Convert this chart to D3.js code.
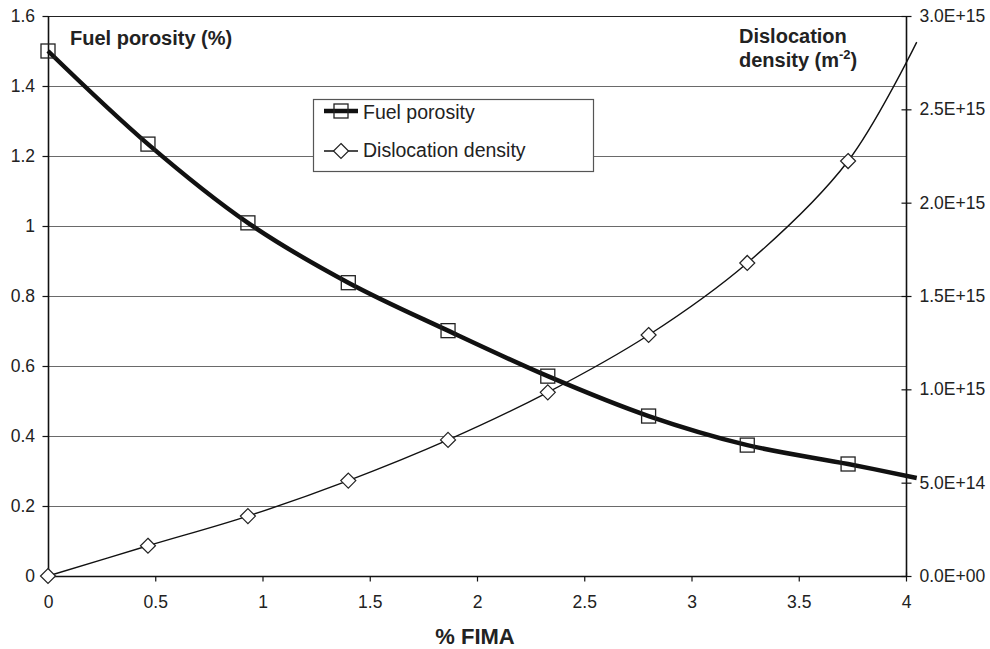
<!DOCTYPE html>
<html>
<head>
<meta charset="utf-8">
<script src="https://cdn.jsdelivr.net/npm/d3@7"></script>
<style>
  html, body { margin: 0; padding: 0; background: #fff; }
  svg { display: block; font-family: "Liberation Sans", Arial, Helvetica, sans-serif; }
</style>
</head>
<body>
<svg id="chart" width="990" height="649"></svg>
<script>
// Burnup (% FIMA) at each measured point
const fima = [0, 0.466, 0.932, 1.4, 1.865, 2.33, 2.8, 3.26, 3.73];
// Fuel porosity (%) — left axis
const porosity = [1.5, 1.234, 1.009, 0.838, 0.701, 0.571, 0.457, 0.374, 0.32];
// Dislocation density (m^-2) — right axis
const dislocation = [0, 1.62e14, 3.21e14, 5.11e14, 7.29e14, 9.84e14, 1.291e15, 1.677e15, 2.223e15];
// The smoothed curves run a little past the last measured point
const curveEndFima = 4.05;
const porosityEnd = 0.28;
const dislocationEnd = 2.86e15;

const xTicks = [0, 0.5, 1, 1.5, 2, 2.5, 3, 3.5, 4];
const leftTicks = [0, 0.2, 0.4, 0.6, 0.8, 1, 1.2, 1.4, 1.6];
const rightTicks = [0, 5e14, 1e15, 1.5e15, 2e15, 2.5e15, 3e15];

const svg = d3.select("#chart");
const x = d3.scaleLinear().domain([0, 4]).range([48, 906]);
const yL = d3.scaleLinear().domain([0, 1.6]).range([576, 16]);
const yR = d3.scaleLinear().domain([0, 3e15]).range([576, 16]);

// Horizontal gridlines from the left axis
svg.append("g").selectAll("line")
  .data(leftTicks.filter(d => d > 0))
  .join("line")
  .attr("x1", x(0)).attr("x2", x(4))
  .attr("y1", d => Math.round(yL(d)) + 0.5).attr("y2", d => Math.round(yL(d)) + 0.5)
  .attr("stroke", d => d === 1.6 ? "#222" : "#6a6a6a")
  .attr("stroke-width", 1.2);

// Axes
const xAxis = d3.axisBottom(x).tickValues(xTicks).tickFormat(d => d3.format("")(d)).tickSize(5).tickPadding(14);
const gx = svg.append("g").attr("transform", "translate(0,576.5)").call(xAxis);
const leftAxis = d3.axisLeft(yL).tickValues(leftTicks).tickFormat(d => d3.format("")(+d.toFixed(1))).tickSize(6).tickPadding(7.5);
const gl = svg.append("g").attr("transform", "translate(48.5,0)").call(leftAxis);
const sci = d => {
  if (d === 0) return "0.0E+00";
  const e = Math.floor(Math.log10(d));
  const m = d / Math.pow(10, e);
  return m.toFixed(1) + "E+" + String(e).padStart(2, "0");
};
const rightAxis = d3.axisRight(yR).tickValues(rightTicks).tickFormat(sci).tickSize(5).tickPadding(8);
const gr = svg.append("g").attr("transform", "translate(906.5,0)").call(rightAxis);
// right-axis ticks cross the axis line
gr.selectAll(".tick line").attr("x1", -5);
gx.selectAll(".tick line").filter(d => d === 4).attr("y1", -4);

[gx, gl, gr].forEach(g => {
  g.select(".domain").attr("stroke", "#111").attr("stroke-width", 1.6);
  g.selectAll(".tick line").attr("stroke", "#111").attr("stroke-width", 1.2);
  g.selectAll(".tick text").attr("fill", "#222").style("font-size", "17.5px")
    .style("font-family", '"Liberation Sans", Arial, sans-serif');
});
gl.select(".domain").attr("d", "M0,576V16");
gr.select(".domain").attr("d", "M0,576V16");
gx.select(".domain").attr("d", "M48,0H906");

// Curves
const ptsPor = fima.map((f, i) => [f, porosity[i]]).concat([[curveEndFima, porosityEnd]]);
const ptsDis = fima.map((f, i) => [f, dislocation[i]]).concat([[curveEndFima, dislocationEnd]]);

svg.append("path")
  .datum(ptsDis)
  .attr("fill", "none").attr("stroke", "#111").attr("stroke-width", 1.4)
  .attr("d", d3.line().x(d => x(d[0])).y(d => yR(d[1])).curve(d3.curveCatmullRom.alpha(0.5)));

svg.append("path")
  .datum(ptsPor)
  .attr("fill", "none").attr("stroke", "#111").attr("stroke-width", 4.5)
  .attr("d", d3.line().x(d => x(d[0])).y(d => yL(d[1])).curve(d3.curveCatmullRom.alpha(0.5)));

// Markers
const sq = 14;
svg.append("g").selectAll("rect")
  .data(fima.map((f, i) => [f, porosity[i]]))
  .join("rect")
  .attr("x", d => x(d[0]) - sq / 2).attr("y", d => yL(d[1]) - sq / 2)
  .attr("width", sq).attr("height", sq)
  .attr("fill", "none").attr("stroke", "#222").attr("stroke-width", 1.3);

const dm = 7.5;
const diamond = `M0,${-dm}L${dm},0L0,${dm}L${-dm},0Z`;
svg.append("g").selectAll("path")
  .data(fima.map((f, i) => [f, dislocation[i]]))
  .join("path")
  .attr("transform", d => `translate(${x(d[0])},${yR(d[1])})`)
  .attr("d", diamond)
  .attr("fill", "#fff").attr("stroke", "#222").attr("stroke-width", 1.2);

// Axis titles
svg.append("text").attr("x", 70).attr("y", 45)
  .style("font-size", "20px").style("font-weight", "bold").attr("fill", "#222")
  .text("Fuel porosity (%)");
const dt = svg.append("text").attr("x", 739).attr("y", 43)
  .style("font-size", "20px").style("font-weight", "bold").attr("fill", "#222");
dt.append("tspan").attr("x", 739).text("Dislocation");
dt.append("tspan").attr("x", 739).attr("dy", 24).text("density (m");
dt.append("tspan").attr("dy", -8).style("font-size", "13px").text("-2");
dt.append("tspan").attr("dy", 8).text(")");
svg.append("text").attr("x", 475).attr("y", 644).attr("text-anchor", "middle")
  .style("font-size", "22px").style("font-weight", "bold").attr("fill", "#222")
  .text("% FIMA");

// Legend
const lg = svg.append("g");
lg.append("rect").attr("x", 313.5).attr("y", 99.5).attr("width", 280).attr("height", 72)
  .attr("fill", "#fff").attr("stroke", "#555").attr("stroke-width", 1.2);
lg.append("line").attr("x1", 324).attr("x2", 358).attr("y1", 111).attr("y2", 111)
  .attr("stroke", "#111").attr("stroke-width", 4.5);
lg.append("rect").attr("x", 334).attr("y", 104).attr("width", 14).attr("height", 14)
  .attr("fill", "none").attr("stroke", "#222").attr("stroke-width", 1.3);
lg.append("line").attr("x1", 324).attr("x2", 358).attr("y1", 151).attr("y2", 151)
  .attr("stroke", "#111").attr("stroke-width", 1.4);
lg.append("path").attr("transform", "translate(341,151)").attr("d", diamond)
  .attr("fill", "#fff").attr("stroke", "#222").attr("stroke-width", 1.2);
lg.append("text").attr("x", 363).attr("y", 119).style("font-size", "19.5px").attr("fill", "#222")
  .text("Fuel porosity");
lg.append("text").attr("x", 363).attr("y", 157).style("font-size", "19.5px").attr("fill", "#222")
  .text("Dislocation density");
</script>
</body>
</html>
